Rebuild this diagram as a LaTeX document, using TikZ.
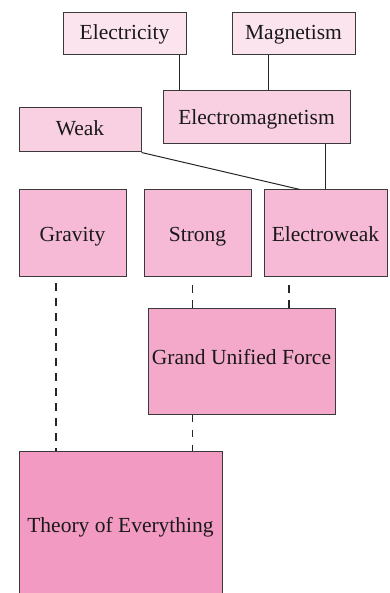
\documentclass[tikz,border=0pt]{standalone}
\usepackage{fontspec}
\setmainfont{Liberation Serif}
\definecolor{bordc}{HTML}{3A3A3A}
\definecolor{cA}{HTML}{FCE4EE}
\definecolor{cB}{HTML}{F9CFE2}
\definecolor{cC}{HTML}{F6BAD6}
\definecolor{cD}{HTML}{F4A9CB}
\definecolor{cE}{HTML}{F29AC1}
\begin{document}
\begin{tikzpicture}[x=1pt,y=-1pt,
  box/.style={draw=bordc,line width=1pt,rectangle,inner sep=0pt,
    font=\fontsize{21.5}{24}\selectfont,text=black!90,text depth=0pt,text height=15pt},
  link/.style={draw=black!85,line width=1pt},
  dlink/.style={draw=black!85,line width=1.1pt,dash pattern=on 7.5pt off 7.5pt}]
\useasboundingbox (0,0) rectangle (389,593);
\clip (0,0) rectangle (389,593);
\node[box,fill=cA,minimum width=123pt,minimum height=42pt,text height=12pt] (elec) at (124.5,34) {Electricity};
\node[box,fill=cA,minimum width=123pt,minimum height=42pt,text height=12pt] (mag) at (293.5,34) {Magnetism};
\node[box,fill=cB,minimum width=187pt,minimum height=53pt] (em) at (256.5,117.5) {Electromagnetism};
\node[box,fill=cB,minimum width=122pt,minimum height=44pt,text height=12pt] (weak) at (80,130) {Weak};
\node[box,fill=cC,minimum width=107pt,minimum height=86pt,text height=17pt] (grav) at (72.5,233) {Gravity};
\node[box,fill=cC,minimum width=107pt,minimum height=86pt,text height=17pt] (strong) at (197.5,233) {Strong};
\node[box,fill=cC,minimum width=123pt,minimum height=86pt,text height=17pt] (ew) at (325.5,233) {Electroweak};
\node[box,fill=cD,minimum width=187pt,minimum height=106pt,text height=6pt] (guf) at (241.5,361) {Grand Unified Force};
\node[box,fill=cE,minimum width=203pt,minimum height=148pt] (toe) at (120.5,525) {Theory of Everything};
% solid connectors
\draw[link] (179,0 |- elec.south) -- (179,0 |- em.north);
\draw[link] (268,0 |- mag.south) -- (268,0 |- em.north);
\draw[link] (em.south -| ew.north) -- (ew.north);
\draw[link] (weak.south east) -- (300,0 |- ew.north);
% dashed connectors
\draw[dlink] (56,283) -- (56,0 |- toe.north);
\draw[dlink] (192.5,285) -- (192.5,0 |- guf.north);
\draw[dlink] (289,285) -- (289,0 |- guf.north);
\draw[dlink] (192.5,0 |- guf.south) -- (192.5,0 |- toe.north);
\end{tikzpicture}
\end{document}
